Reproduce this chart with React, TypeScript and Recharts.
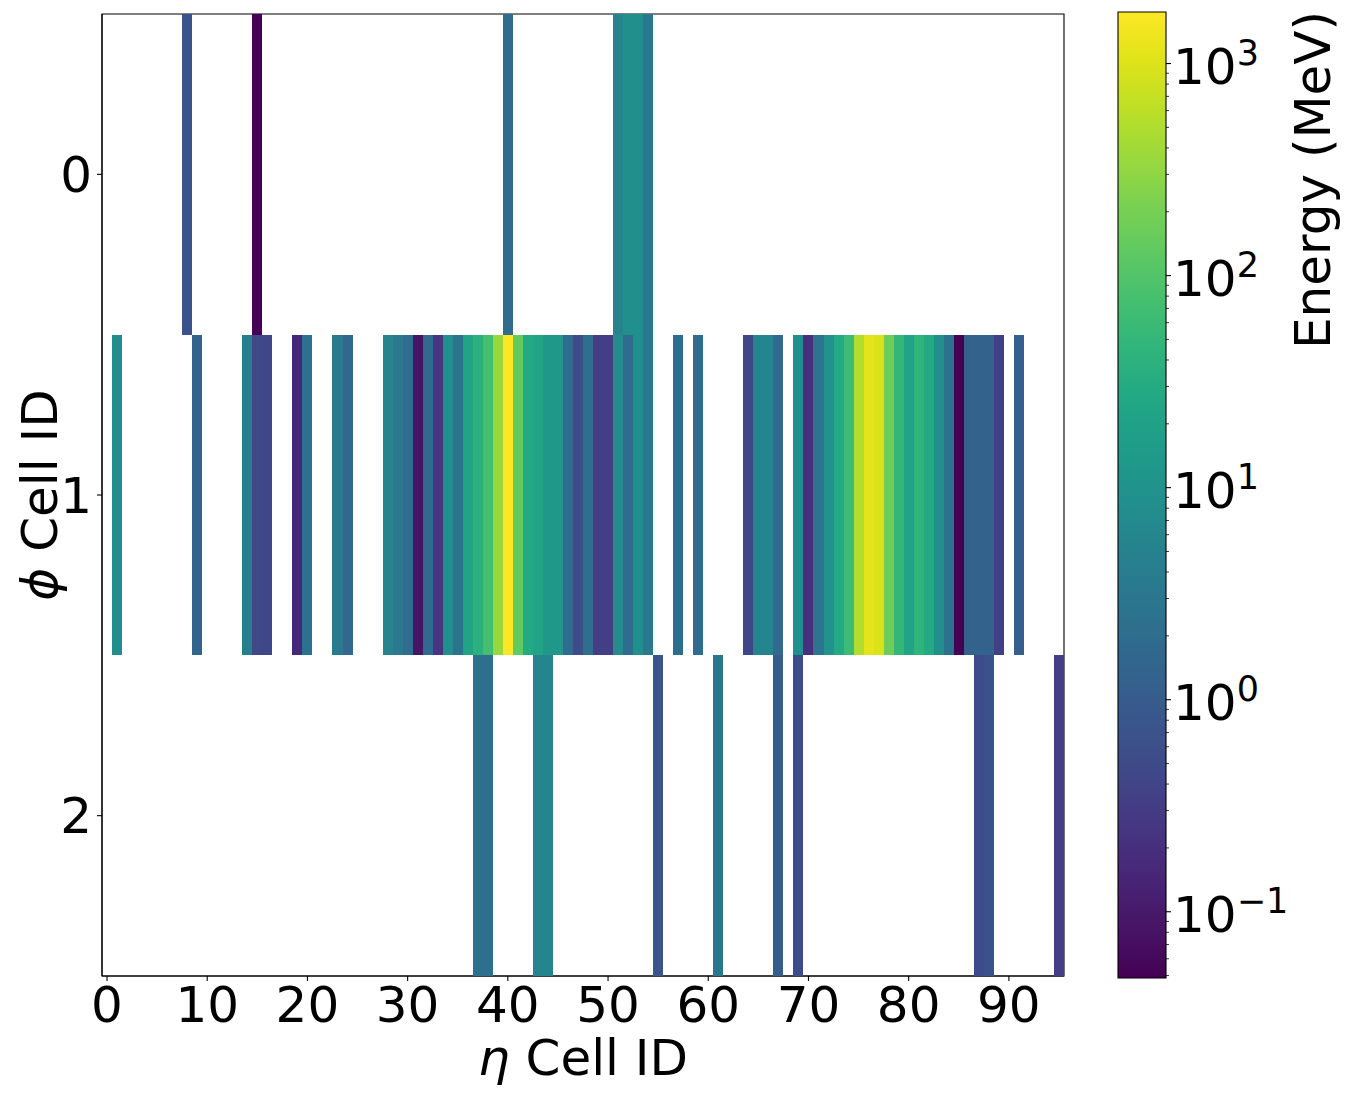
import {
  ScatterChart,
  Scatter,
  XAxis,
  YAxis,
  ReferenceArea,
  ComposedChart,
  Label,
} from "recharts";

// eta cell ids + energies (MeV) for each phi row
const row0Eta = [8, 15, 40, 51, 52, 53, 54];
const row0Energy = [0.7, 0.05, 1.9, 5.5, 9.0, 9.0, 3.3];

const row1Eta = [
  1, 9, 14, 15, 16, 19, 20, 23, 24, 28, 29, 30, 31, 32, 33, 34, 35, 36, 37, 38,
  39, 40, 41, 42, 43, 44, 45, 46, 47, 48, 49, 50, 51, 52, 53, 54, 57, 59, 64, 65,
  66, 67, 69, 70, 71, 72, 73, 74, 75, 76, 77, 78, 79, 80, 81, 82, 83, 84, 85, 86,
  87, 88, 89, 91,
];
const row1Energy = [
  8, 1.4, 4.2, 0.48, 0.45, 0.16, 2.5, 3.6, 1.6, 5.5, 3.4, 2.0, 0.085, 1.8, 0.24, 9,
  2.6, 22, 38, 77, 340, 1750, 131, 27, 22, 13, 13, 2.0, 0.55, 2.2, 0.33, 0.33, 7.5,
  2.0, 9, 3.3, 2.0, 2.0, 0.45, 5.6, 5.6, 1.8, 9, 0.2, 3.0, 9.5, 27, 62, 520, 1150,
  960, 165, 50, 22, 45, 27, 8.5, 2.5, 0.05, 1.3, 1.3, 1.3, 0.33, 1.17,
];

const row2Eta = [37, 38, 43, 44, 55, 61, 67, 69, 87, 88, 95];
const row2Energy = [2.2, 2.2, 5.8, 5.8, 0.75, 3.0, 1.05, 0.52, 0.5, 0.65, 0.33];

const etaTicks = [0, 10, 20, 30, 40, 50, 60, 70, 80, 90];
const phiTicks = [0, 1, 2];
const cbarMajorTicks = [0.1, 1, 10, 100, 1000];
const cbarMinorTicks = [
  0.05, 0.06, 0.07, 0.08, 0.09, 0.2, 0.3, 0.4, 0.5, 0.6, 0.7, 0.8, 0.9, 2, 3, 4, 5,
  6, 7, 8, 9, 20, 30, 40, 50, 60, 70, 80, 90, 200, 300, 400, 500, 600, 700, 800, 900,
];

const VMIN = 0.0487;
const VMAX = 1750;

const FONT = "DejaVu Sans";
const PLOT_W = 962;
const PLOT_H = 962;
const CELL_W = PLOT_W / 96;
const CELL_H = PLOT_H / 3;

const VIRIDIS = [
  "#440154", "#471365", "#482475", "#463480", "#414487", "#3b528b", "#355f8d",
  "#2f6c8e", "#2a788e", "#25848e", "#21918c", "#1e9c89", "#22a884", "#2fb47c",
  "#44bf70", "#5ec962", "#7ad151", "#9bd93c", "#bddf26", "#dfe318", "#fde725",
];

function hexToRgb(h: string) {
  return [1, 3, 5].map((i) => parseInt(h.slice(i, i + 2), 16));
}

function viridis(t: number) {
  const c = Math.min(1, Math.max(0, t)) * (VIRIDIS.length - 1);
  const i = Math.min(VIRIDIS.length - 2, Math.floor(c));
  const f = c - i;
  const a = hexToRgb(VIRIDIS[i]);
  const b = hexToRgb(VIRIDIS[i + 1]);
  const rgb = a.map((v, k) => Math.round(v + (b[k] - v) * f));
  return `rgb(${rgb[0]},${rgb[1]},${rgb[2]})`;
}

function energyColor(e: number) {
  const lo = Math.log10(VMIN);
  const hi = Math.log10(VMAX);
  return viridis((Math.log10(e) - lo) / (hi - lo));
}

const cells = [
  ...row0Eta.map((eta, i) => ({ eta, phi: 0, energy: row0Energy[i] })),
  ...row1Eta.map((eta, i) => ({ eta, phi: 1, energy: row1Energy[i] })),
  ...row2Eta.map((eta, i) => ({ eta, phi: 2, energy: row2Energy[i] })),
];

const renderCell = (props: any) => (
  <rect
    x={props.cx - CELL_W / 2}
    y={props.cy - CELL_H / 2}
    width={CELL_W}
    height={CELL_H}
    fill={energyColor(props.payload.energy)}
    shapeRendering="crispEdges"
  />
);

const tickStyle = { fill: "#000", fontSize: 50, fontFamily: FONT };

const XTitle = (props: any) => {
  const vb = props.viewBox;
  return (
    <text x={vb.x + vb.width / 2} y={1075} textAnchor="middle" fontSize={50} fontFamily={FONT} fill="#000">
      <tspan fontStyle="italic">η</tspan> Cell ID
    </text>
  );
};

const YTitle = () => (
  <text
    x={57}
    y={495}
    transform="rotate(-90, 57, 495)"
    textAnchor="middle"
    fontSize={50}
    fontFamily={FONT}
    fill="#000"
  >
    <tspan fontStyle="italic">ϕ</tspan> Cell ID
  </text>
);

const CbarTitle = () => (
  <text
    x={1330 - 1100}
    y={180}
    transform={`rotate(-90, ${1330 - 1100}, 180)`}
    textAnchor="middle"
    fontSize={50}
    fontFamily={FONT}
    fill="#000"
  >
    Energy (MeV)
  </text>
);

const CbarTick = (props: any) => {
  const { x, y, payload } = props;
  const v = payload.value;
  if (!cbarMajorTicks.includes(v)) {
    return <line x1={x} x2={x + 3} y1={y} y2={y} stroke="#000" strokeWidth={0.8} />;
  }
  const exp = Math.round(Math.log10(v));
  return (
    <g>
      <line x1={x} x2={x + 5} y1={y} y2={y} stroke="#000" strokeWidth={1.1} />
      <text x={x + 7} y={y + 20} fontSize={50} fontFamily={FONT} fill="#000">
        10
        <tspan dy={-19} fontSize={35}>
          {exp < 0 ? "\u2212" + -exp : String(exp)}
        </tspan>
      </text>
    </g>
  );
};

export default function App() {
  return (
    <div style={{ position: "absolute", left: 0, top: 0, width: 1346, height: 1094, background: "#fff" }}>
      <div style={{ position: "absolute", left: 0, top: 0 }}>
        <ScatterChart width={1100} height={1094} margin={{ top: 14, right: 36, bottom: 8, left: 0 }}>
          <XAxis
            type="number"
            dataKey="eta"
            domain={[-0.5, 95.5]}
            allowDataOverflow
            ticks={etaTicks}
            interval={0}
            height={110}
            tickSize={5}
            tickMargin={5}
            axisLine={{ stroke: "#000", strokeWidth: 1.1 }}
            tickLine={{ stroke: "#000", strokeWidth: 1.1 }}
            tick={tickStyle}
          >
            <Label content={XTitle} />
          </XAxis>
          <YAxis
            type="number"
            dataKey="phi"
            domain={[-0.5, 2.5]}
            reversed
            allowDataOverflow
            ticks={phiTicks}
            interval={0}
            width={102}
            tickSize={5}
            tickMargin={5}
            axisLine={{ stroke: "#000", strokeWidth: 1.1 }}
            tickLine={{ stroke: "#000", strokeWidth: 1.1 }}
            tick={tickStyle}
          >
            <Label content={YTitle} />
          </YAxis>
          <Scatter data={cells} shape={renderCell} isAnimationActive={false} />
          <ReferenceArea
            x1={-0.5}
            x2={95.5}
            y1={-0.5}
            y2={2.5}
            fill="none"
            fillOpacity={0}
            stroke="#000"
            strokeWidth={1.1}
            ifOverflow="visible"
          />
        </ScatterChart>
      </div>
      <div style={{ position: "absolute", left: 1100, top: 0 }}>
        <ComposedChart
          width={246}
          height={1094}
          margin={{ top: 12, right: 10, bottom: 116, left: 18 }}
          data={[{ x: 0 }, { x: 1 }]}
        >
          <defs>
            <linearGradient id="viridisBar" x1="0" y1="1" x2="0" y2="0">
              {VIRIDIS.map((c, i) => (
                <stop key={c} offset={`${(i / (VIRIDIS.length - 1)) * 100}%`} stopColor={c} />
              ))}
            </linearGradient>
          </defs>
          <XAxis type="number" dataKey="x" domain={[0, 1]} hide height={0} />
          <YAxis
            orientation="right"
            type="number"
            scale="log"
            domain={[VMIN, VMAX]}
            allowDataOverflow
            ticks={[...cbarMajorTicks, ...cbarMinorTicks]}
            interval={0}
            width={170}
            tickSize={0}
            tickMargin={0}
            axisLine={false}
            tick={<CbarTick />}
          >
            <Label content={CbarTitle} />
          </YAxis>
          <ReferenceArea
            x1={0}
            x2={1}
            y1={VMIN}
            y2={VMAX}
            fill="url(#viridisBar)"
            fillOpacity={1}
            stroke="#000"
            strokeWidth={1.1}
            ifOverflow="visible"
          />
        </ComposedChart>
      </div>
    </div>
  );
}
